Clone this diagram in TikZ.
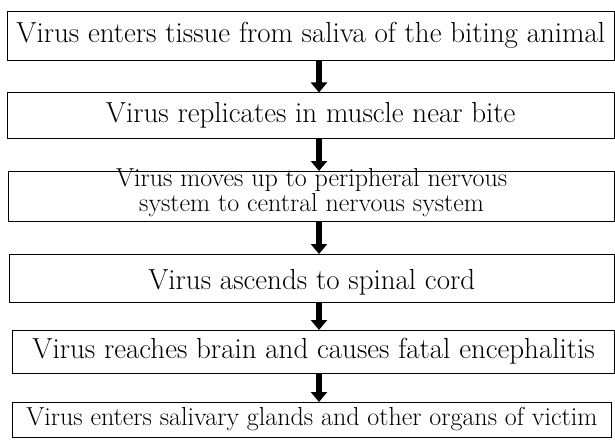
\documentclass[tikz,border=0pt]{standalone}
\usetikzlibrary{arrows.meta}
\tikzset{
  stage/.style={draw, line width=0.8pt, inner sep=0pt, outer sep=0pt, align=center,
    font=\fontsize{29}{25}\selectfont},
  small/.style={font=\fontsize{26}{25}\selectfont},
  flow/.style={line width=6.5pt, arrows=-{Triangle[width=16pt,length=10pt]}}
}
\begin{document}
\begin{tikzpicture}[x=1pt,y=-1pt]
\useasboundingbox (0,0) rectangle (615,441);
\coordinate (ax) at (319,0);
\node[stage, minimum width=607.5pt, minimum height=49pt] (b1) at (310.75,35.5)
  {Virus enters tissue from saliva of the biting animal};
\node[stage, minimum width=607.5pt, minimum height=46pt] (b2) at (310.75,115.5)
  {Virus replicates in muscle near bite};
\node[stage, small, text height=37pt, minimum width=605.8pt, minimum height=50pt] (b3) at (311.6,196)
  {Virus moves up to peripheral nervous\\system to central nervous system};
\node[stage, text height=28pt, minimum width=605.5pt, minimum height=48pt] (b4) at (311.75,278)
  {Virus ascends to spinal cord};
\node[stage, minimum width=601.8pt, minimum height=43pt] (b5) at (313.6,351.5)
  {Virus reaches brain and causes fatal encephalitis};
\node[stage, small, minimum width=598.3pt, minimum height=35pt] (b6) at (311.85,419.5)
  {Virus enters salivary glands and other organs of victim};
 \foreach \a/\b in {b1/b2,b2/b3,b3/b4,b4/b5,b5/b6}
    \draw[flow] (\a.south -| ax) -- (\b.north -| ax);
\end{tikzpicture}
\end{document}
